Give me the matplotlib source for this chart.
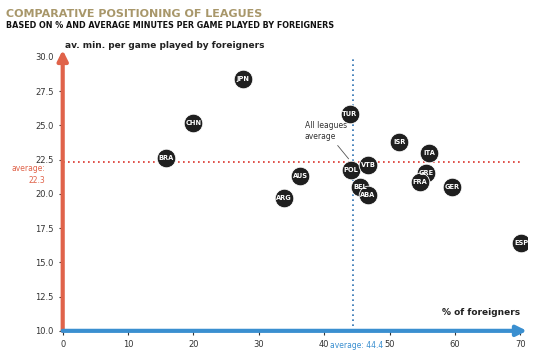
import matplotlib
matplotlib.use("Agg")
import matplotlib.pyplot as plt
import numpy as np

plt.rcParams['font.family'] = ['DejaVu Sans']

leagues = ["JPN", "CHN", "BRA", "TUR", "ISR", "ITA", "POL", "VTB", "GRE",
           "FRA", "GER", "BEL", "ABA", "AUS", "ARG", "ESP"]
pct_foreigners = [27.6, 20.0, 15.8, 43.9, 51.5, 56.1, 44.1, 46.7, 55.6,
                  54.6, 59.5, 45.5, 46.7, 36.3, 33.9, 70.1]
avg_minutes = [28.4, 25.2, 22.6, 25.8, 23.8, 23.0, 21.75, 22.1, 21.55,
               20.9, 20.5, 20.5, 19.9, 21.3, 19.7, 16.4]
avg_pct = 44.4
avg_min = 22.3
x_ticks = [0, 10, 20, 30, 40, 50, 60, 70]
y_ticks = [10.0, 12.5, 15.0, 17.5, 20.0, 22.5, 25.0, 27.5, 30.0]

RED = '#e0634a'
BLUE = '#3a8fd0'
GOLD = '#a8976a'

fig = plt.figure(figsize=(5.5, 3.6), dpi=100)
ax = fig.add_axes([0.114, 0.081, 0.844, 0.780])
ax.set_xlim(0, 71)
ax.set_ylim(10, 30.5)

for s in ax.spines.values():
    s.set_visible(False)

# axis arrows
ax.annotate('', xy=(0, 1.0), xytext=(0, 0), xycoords='axes fraction',
            arrowprops=dict(arrowstyle='-|>', color=RED, lw=3, mutation_scale=15,
                            shrinkA=0, shrinkB=0))
ax.annotate('', xy=(1.0, 0), xytext=(0, 0), xycoords='axes fraction',
            arrowprops=dict(arrowstyle='-|>', color=BLUE, lw=3, mutation_scale=15,
                            shrinkA=0, shrinkB=0))

# average lines
ax.axhline(avg_min, xmin=0, xmax=0.99, color='#d9322a', lw=1.2, ls=(0, (1, 2)), zorder=1)
ax.plot([avg_pct, avg_pct], [10, 30.1], color='#2a6fb0', lw=1.2, ls=(0, (1, 2)), zorder=1)

ax.scatter(pct_foreigners, avg_minutes, s=180, color='#1f1f1f', edgecolor='white',
           linewidth=0.6, zorder=3)
for name, x, y in zip(leagues, pct_foreigners, avg_minutes):
    ax.text(x, y, name, color='white', fontsize=4.8, fontweight='bold',
            ha='center', va='center', zorder=4)

ax.set_xticks(x_ticks)
ax.set_yticks(y_ticks)
ax.set_yticklabels([f"{v:.1f}" for v in y_ticks])
ax.tick_params(axis='both', labelsize=6, length=3, width=0.8, colors='#333333')

ax.text(avg_pct + 0.6, 9.25, "average: 44.4", color=BLUE, fontsize=5.5,
        ha='center', va='top')
ax.text(-2.6, 21.4, "average:\n22.3", color=RED, fontsize=5.5,
        ha='right', va='center', linespacing=1.5)

ax.text(70, 11.0, "% of foreigners", fontsize=6.5, fontweight='bold',
        ha='right', va='bottom', color='#222222')
fig.text(0.30, 0.875, "av. min. per game played by foreigners", fontsize=6.5,
         fontweight='bold', ha='center', va='center', color='#222222')

ax.annotate("All leagues\naverage", xy=(avg_pct - 0.4, avg_min + 0.1),
            xytext=(37.0, 24.6), fontsize=5.5, ha='left', va='center', color='#333333',
            arrowprops=dict(arrowstyle='-', color='#555555', lw=0.6))

fig.text(0.01, 0.962, "COMPARATIVE POSITIONING OF LEAGUES", fontsize=8,
         fontweight='bold', color=GOLD, ha='left', va='center')
fig.text(0.01, 0.928, "BASED ON % AND AVERAGE MINUTES PER GAME PLAYED BY FOREIGNERS",
         fontsize=5.8, fontweight='bold', color='#111111', ha='left', va='center')

fig.savefig("out.png", dpi=100)
